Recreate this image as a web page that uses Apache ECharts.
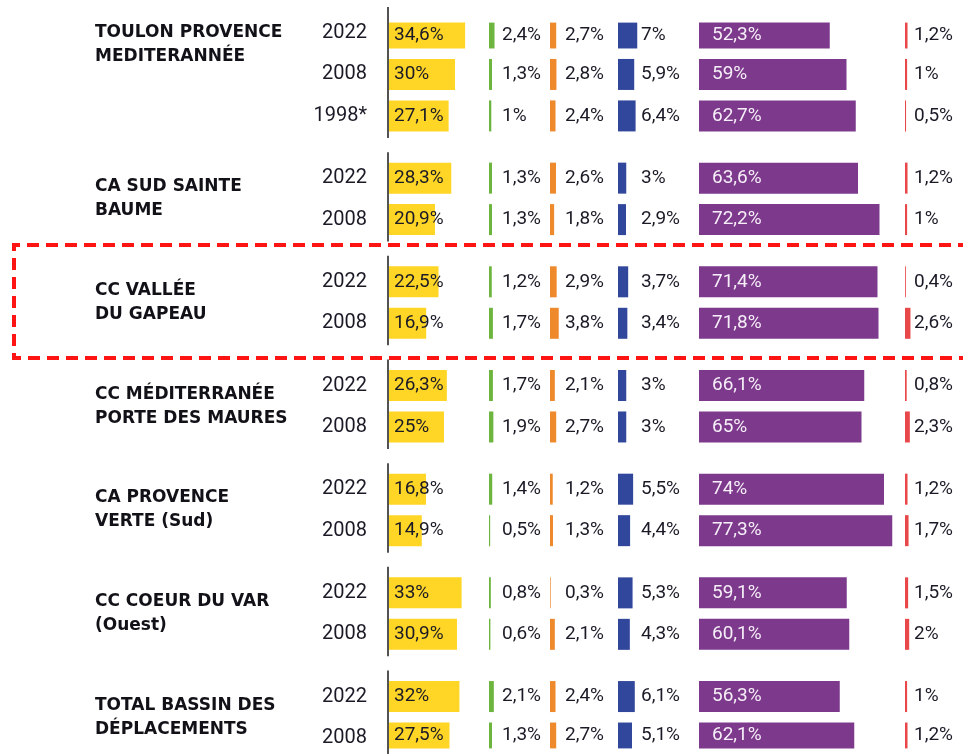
<!DOCTYPE html>
<html>
<head>
<meta charset="utf-8">
<script src="https://cdn.jsdelivr.net/npm/echarts@6/dist/echarts.min.js"></script>
<style>
  html, body { margin: 0; padding: 0; background: #fff; }
  #chart { width: 963px; height: 754px; }
</style>
</head>
<body>
<div id="chart"></div>
<script>
// groupes et années
const groupNames = [
  'TOULON PROVENCE\nMEDITERANNÉE',
  'CA SUD SAINTE\nBAUME',
  'CC VALLÉE\nDU GAPEAU',
  'CC MÉDITERRANÉE\nPORTE DES MAURES',
  'CA PROVENCE\nVERTE (Sud)',
  'CC COEUR DU VAR\n(Ouest)',
  'TOTAL BASSIN DES\nDÉPLACEMENTS'
]
const groupYears = [
  ['2022', '2008', '1998*'],
  ['2022', '2008'],
  ['2022', '2008'],
  ['2022', '2008'],
  ['2022', '2008'],
  ['2022', '2008'],
  ['2022', '2008']
]

// parts modales (%), une valeur par ligne
const yellowVals = [34.6, 30, 27.1, 28.3, 20.9, 22.5, 16.9, 26.3, 25, 16.8, 14.9, 33, 30.9, 32, 27.5]
const greenVals = [2.4, 1.3, 1, 1.3, 1.3, 1.2, 1.7, 1.7, 1.9, 1.4, 0.5, 0.8, 0.6, 2.1, 1.3]
const orangeVals = [2.7, 2.8, 2.4, 2.6, 1.8, 2.9, 3.8, 2.1, 2.7, 1.2, 1.3, 0.3, 2.1, 2.4, 2.7]
const blueVals = [7, 5.9, 6.4, 3, 2.9, 3.7, 3.4, 3, 3, 5.5, 4.4, 5.3, 4.3, 6.1, 5.1]
const purpleVals = [52.3, 59, 62.7, 63.6, 72.2, 71.4, 71.8, 66.1, 65, 74, 77.3, 59.1, 60.1, 56.3, 62.1]
const redVals = [1.2, 1, 0.5, 1.2, 1, 0.4, 2.6, 0.8, 2.3, 1.2, 1.7, 1.5, 2, 1, 1.2]

// positions des lignes sur l'axe (demi-lignes, avec un espace entre groupes)
const rowSlots = []
const groupSpans = []
let slot = 0
groupYears.forEach((years, g) => {
  const first = slot
  years.forEach(() => { rowSlots.push(slot); slot += 2 })
  groupSpans.push([0, first, slot - 2, g])
  slot += 1
})
const slotCount = rowSlots[rowSlots.length - 1] + 1

const slotLabels = new Array(slotCount).fill('')
groupYears.flat().forEach((y, i) => { slotLabels[rowSlots[i]] = y })

const toSlots = (vals) => {
  const arr = new Array(slotCount).fill('-')
  vals.forEach((v, i) => { arr[rowSlots[i]] = v })
  return arr
}

const fmt = (v) => String(v).replace('.', ',') + '%'

const TOP = 22.6
const HEIGHT = 725.8
const textColor = '#1a1a26'

// colonnes : départ x, largeur, px par %
const columns = [
  { vals: yellowVals, color: '#FFD526', left: 389, width: 120, k: 2.2, lx: 5, lc: textColor },
  { vals: greenVals, color: '#6DB53F', left: 489, width: 50, k: 2.3, lx: 13, lc: textColor },
  { vals: orangeVals, color: '#EF8A2C', left: 550, width: 50, k: 2.3, lx: 15, lc: textColor },
  { vals: blueVals, color: '#31479B', left: 618, width: 60, k: 2.75, lx: 23, lc: textColor },
  { vals: purpleVals, color: '#7D3A8C', left: 699, width: 210, k: 2.5, lx: 13, lc: '#f6eef8' },
  { vals: redVals, color: '#E8484A', left: 905, width: 50, k: 2.1, lx: 9, lc: textColor }
]

const chart = echarts.init(document.getElementById('chart'))

const option = {
  backgroundColor: '#fff',
  animation: false,
  textStyle: { fontFamily: 'Roboto' },
  grid: columns.map(c => ({
    left: c.left, width: c.width, top: TOP, height: HEIGHT, outerBoundsMode: 'none'
  })),
  xAxis: columns.map((c, i) => ({
    type: 'value', gridIndex: i, min: 0, max: c.width / c.k, show: false
  })),
  yAxis: columns.map((c, i) => ({
    type: 'category',
    gridIndex: i,
    inverse: true,
    data: slotLabels,
    show: i === 0,
    axisLine: { show: false },
    axisTick: { show: false },
    axisLabel: {
      interval: 0,
      margin: 22,
      fontSize: 20,
      color: textColor,
      fontFamily: 'Roboto'
    }
  })),
  series: [
    ...columns.map((c, i) => ({
      type: 'bar',
      xAxisIndex: i,
      yAxisIndex: i,
      data: toSlots(c.vals),
      barWidth: 31,
      itemStyle: { color: c.color },
      label: {
        show: true,
        position: [c.lx, '50%'],
        align: 'left',
        verticalAlign: 'middle',
        fontSize: 19,
        fontFamily: 'Roboto',
        color: c.lc,
        formatter: p => fmt(p.value)
      }
    })),
    {
      // trait noir de chaque groupe + nom du groupe
      type: 'custom',
      xAxisIndex: 0,
      yAxisIndex: 0,
      clip: false,
      data: groupSpans,
      renderItem: (params, api) => {
        const first = api.value(1)
        const last = api.value(2)
        const g = api.value(3)
        const step = api.size([0, 1])[1]
        const p0 = api.coord([0, first])
        const p1 = api.coord([0, last])
        const nRows = groupYears[g].length
        const mid = nRows > 2 ? p0[1] + step * 0.55 : (p0[1] + p1[1]) / 2
        return {
          type: 'group',
          children: [
            {
              type: 'line',
              shape: { x1: p0[0] - 1, y1: p0[1] - 26, x2: p0[0] - 1, y2: p1[1] + 22 },
              style: { stroke: '#1a1a1a', lineWidth: 1.5 }
            },
            {
              type: 'text',
              style: {
                text: groupNames[g],
                x: 95,
                y: mid,
                align: 'left',
                verticalAlign: 'middle',
                lineHeight: 24,
                fontSize: 17,
                fontWeight: 'bold',
                fontFamily: 'DejaVu Sans',
                fill: '#111118'
              }
            }
          ]
        }
      }
    }
  ],
  graphic: [
    {
      type: 'polyline',
      z: 100,
      shape: { points: [[970, 245], [14, 245], [14, 358], [970, 358]] },
      style: { fill: null, stroke: '#FF1414', lineWidth: 4, lineDash: [12, 7] }
    }
  ]
}

chart.setOption(option)
</script>
</body>
</html>
